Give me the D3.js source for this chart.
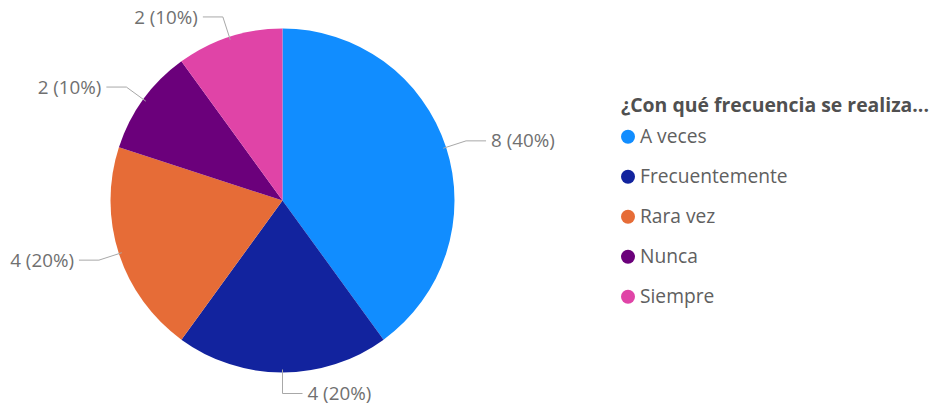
<!DOCTYPE html>
<html>
<head>
<meta charset="utf-8">
<script src="https://cdn.jsdelivr.net/npm/d3@7"></script>
<style>
  html, body { margin: 0; padding: 0; background: #fff; }
  svg { display: block; font-family: "Open Sans", "Noto Sans", sans-serif; }
</style>
</head>
<body>
<svg id="chart" width="936" height="411"></svg>
<script>
// Survey answers and their counts
const categories = ["A veces", "Frecuentemente", "Rara vez", "Nunca", "Siempre"];
const counts = [8, 4, 4, 2, 2];
const colors = ["#118DFF", "#12239E", "#E66C37", "#6B007B", "#E044A7"];
const legendTitle = "¿Con qué frecuencia se realiza...";

const svg = d3.select("#chart");
const cx = 282.5, cy = 200.5, radius = 172;
const total = d3.sum(counts);

const data = categories.map((c, i) => ({ name: c, value: counts[i], color: colors[i] }));

const pie = d3.pie().value(d => d.value).sort(null);
const arcs = pie(data);
const arc = d3.arc().innerRadius(0).outerRadius(radius);

const g = svg.append("g").attr("transform", `translate(${cx},${cy})`);

g.selectAll("path.slice")
  .data(arcs)
  .join("path")
  .attr("class", "slice")
  .attr("d", arc)
  .attr("fill", d => d.data.color);

// Leader lines: from the rim, out to an elbow, then a short horizontal run
const elbowR = radius + 21;
const runLen = 20;
const pt = (a, r) => [Math.sin(a) * r, -Math.cos(a) * r];

arcs.forEach(d => {
  const mid = (d.startAngle + d.endAngle) / 2;
  const p0 = pt(mid, radius - 3);
  const p1 = pt(mid, elbowR);
  const right = Math.sin(mid) > 1e-6;
  const bottom = Math.abs(Math.sin(mid)) < 1e-6;
  const dir = right || bottom ? 1 : -1;
  const p2 = [p1[0] + dir * runLen, p1[1]];
  g.append("polyline")
    .attr("points", [p0, p1, p2].map(p => p.join(",")).join(" "))
    .attr("fill", "none")
    .attr("stroke", "#A8A8A8")
    .attr("stroke-width", 1);
  const pct = Math.round(d.data.value / total * 100);
  g.append("text")
    .attr("x", p2[0] + dir * 5)
    .attr("y", p2[1])
    .attr("dy", "0.35em")
    .attr("text-anchor", dir > 0 ? "start" : "end")
    .attr("font-size", 18.8)
    .attr("fill", "#707070")
    .text(`${d.data.value} (${pct}%)`);
});

// Legend
const legend = svg.append("g");
legend.append("text")
  .attr("x", 621)
  .attr("y", 112)
  .attr("font-size", 19.4)
  .attr("font-weight", "bold")
  .attr("fill", "#505050")
  .text(legendTitle);

const ly = d3.scalePoint().domain(categories).range([136.7, 296.7]);
const items = legend.selectAll("g.item")
  .data(data)
  .join("g")
  .attr("class", "item")
  .attr("transform", d => `translate(0,${ly(d.name)})`);
items.append("circle")
  .attr("cx", 628)
  .attr("cy", 0)
  .attr("r", 7)
  .attr("fill", d => d.color);
items.append("text")
  .attr("x", 640)
  .attr("y", 0)
  .attr("dy", "0.35em")
  .attr("font-size", 19.2)
  .attr("fill", "#606060")
  .text(d => d.name);
</script>
</body>
</html>
